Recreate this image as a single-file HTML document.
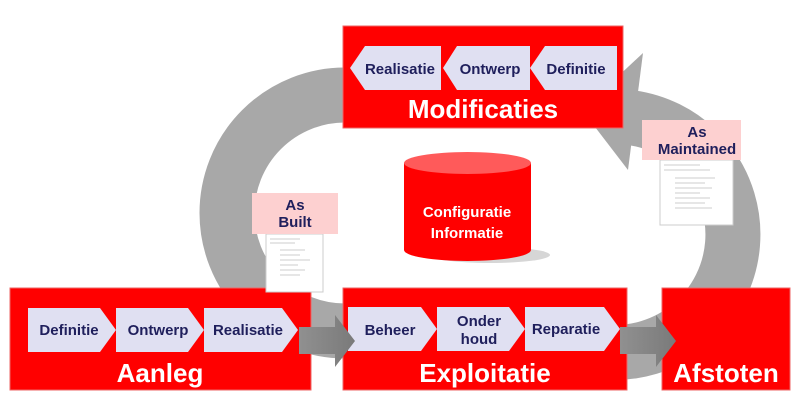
<!DOCTYPE html>
<html><head><style>
body{margin:0;width:800px;height:416px;background:#fff;overflow:hidden;position:relative;font-family:"Liberation Sans",Arial,sans-serif}
</style></head><body>
<svg width="800" height="416" style="position:absolute;left:0;top:0" font-family="Liberation Sans, Arial, sans-serif" font-weight="bold">
<defs>
<linearGradient id="g" x1="0" x2="1"><stop offset="0" stop-color="#909090"/><stop offset="1" stop-color="#7a7a7a"/></linearGradient>
</defs>
<path d="M345 331 A118 118 0 0 1 345 95 L370 95" fill="none" stroke="#a8a8a8" stroke-width="55"/>
<path d="M605 352 A117 117 0 0 0 625 117" fill="none" stroke="#a8a8a8" stroke-width="55"/>
<polygon points="643,53 628,170 582,110" fill="#a8a8a8"/>
<rect x="10" y="288" width="301" height="102" fill="#ff0000" stroke="#e66" stroke-width="1"/>
<rect x="343" y="288" width="284" height="102" fill="#ff0000" stroke="#e66" stroke-width="1"/>
<rect x="662" y="288" width="128" height="102" fill="#ff0000" stroke="#e66" stroke-width="1"/>
<rect x="343" y="26" width="280" height="102" fill="#ff0000" stroke="#e66" stroke-width="1"/>
<g fill="#e0e0f2">
<polygon points="28,308 100,308 116,330 100,352 28,352"/>
<polygon points="116,308 188,308 204,330 188,352 116,352 "/>
<polygon points="204,308 282,308 298,330 282,352 204,352"/>
<polygon points="348,307 421,307 437,329 421,351 348,351"/>
<polygon points="437,307 509,307 525,329 509,351 437,351"/>
<polygon points="525,307 604,307 620,329 604,351 525,351"/>
<polygon points="617,46 545,46 530,68 545,90 617,90"/>
<polygon points="530,46 457,46 443,68 457,90 530,90"/>
<polygon points="441,46 365,46 350,68 365,90 441,90"/>
</g>
<polygon points="299,327 335,327 335,315 355,341 335,367 335,354 299,354" fill="url(#g)"/>
<polygon points="620,327 656,327 656,315 676,341 656,367 656,354 620,354" fill="url(#g)"/>
<g fill="#1f1f5c" font-size="15">
<text x="69" y="335" text-anchor="middle">Definitie</text>
<text x="158" y="335" text-anchor="middle">Ontwerp</text>
<text x="248" y="335" text-anchor="middle">Realisatie</text>
<text x="390" y="335" text-anchor="middle">Beheer</text>
<text x="479" y="326" text-anchor="middle">Onder</text>
<text x="479" y="344" text-anchor="middle">houd</text>
<text x="566" y="334" text-anchor="middle">Reparatie</text>
<text x="400" y="74" text-anchor="middle">Realisatie</text>
<text x="490" y="74" text-anchor="middle">Ontwerp</text>
<text x="576" y="74" text-anchor="middle">Definitie</text>
</g>
<g fill="#fff" font-size="26">
<text x="160" y="382" text-anchor="middle">Aanleg</text>
<text x="485" y="382" text-anchor="middle">Exploitatie</text>
<text x="726" y="382" text-anchor="middle">Afstoten</text>
<text x="483" y="118" text-anchor="middle">Modificaties</text>
</g>
<ellipse cx="490" cy="255" rx="60" ry="8" fill="#bbb" opacity="0.6"/>
<path d="M404 163 L404 250 A63.5 11 0 0 0 531 250 L531 163 Z" fill="#ff0000"/>
<ellipse cx="467.5" cy="163" rx="63.5" ry="11" fill="#ff5a5a"/>
<g fill="#fff" font-size="15" text-anchor="middle">
<text x="467" y="217">Configuratie</text>
<text x="467" y="238">Informatie</text>
</g>
<rect x="266" y="234" width="57" height="58" fill="#fff" stroke="#ccc"/>
<g stroke="#999" stroke-width="0.6">
<line x1="270" y1="239" x2="300" y2="239"/><line x1="270" y1="243" x2="295" y2="243"/><line x1="280" y1="250" x2="305" y2="250"/><line x1="280" y1="255" x2="300" y2="255"/><line x1="280" y1="260" x2="310" y2="260"/><line x1="280" y1="265" x2="298" y2="265"/><line x1="280" y1="270" x2="305" y2="270"/><line x1="280" y1="275" x2="300" y2="275"/>
</g>
<rect x="252" y="193" width="86" height="41" fill="#fdd0d0"/>
<g fill="#1f1f5c" font-size="15" text-anchor="middle">
<text x="295" y="210">As</text><text x="295" y="227">Built</text>
</g>
<rect x="660" y="160" width="73" height="65" fill="#fff" stroke="#ccc"/>
<g stroke="#999" stroke-width="0.6">
<line x1="664" y1="165" x2="700" y2="165"/><line x1="664" y1="170" x2="710" y2="170"/><line x1="675" y1="178" x2="715" y2="178"/><line x1="675" y1="183" x2="705" y2="183"/><line x1="675" y1="188" x2="712" y2="188"/><line x1="675" y1="193" x2="700" y2="193"/><line x1="675" y1="198" x2="710" y2="198"/><line x1="675" y1="203" x2="705" y2="203"/><line x1="675" y1="208" x2="712" y2="208"/>
</g>
<rect x="642" y="120" width="99" height="40" fill="#fdd0d0"/>
<g fill="#1f1f5c" font-size="15" text-anchor="middle">
<text x="697" y="137">As</text><text x="697" y="154">Maintained</text>
</g>
</svg>
</body></html>
